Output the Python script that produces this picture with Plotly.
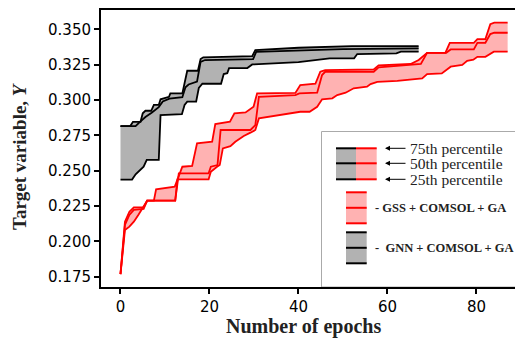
import plotly.graph_objects as go

# ---------------- data ----------------
# GNN + COMSOL + GA (black / grey band)
gnn_p75_x = [0, 2.2, 2.8, 4.5, 5.0, 5.6, 6.9, 7.5, 8.6, 9.0, 10.9, 11.2, 13.9, 15.0, 17.4, 18.0, 18.6, 29.6, 30.3, 40, 52, 67]
gnn_p75_y = [0.2816, 0.2816, 0.2846, 0.2846, 0.2906, 0.2924, 0.2924, 0.2965, 0.2965, 0.3005, 0.3023, 0.3047, 0.3047, 0.3207, 0.3207, 0.3290, 0.3302, 0.3310, 0.3354, 0.3370, 0.3382, 0.3382]

gnn_p50_x = [0, 3.4, 4.2, 5.6, 7.0, 8.6, 9.5, 11.0, 13.9, 14.6, 15.3, 17.2, 18.0, 19.0, 29.8, 30.5, 50, 67]
gnn_p50_y = [0.2816, 0.2816, 0.2840, 0.2880, 0.2910, 0.2950, 0.2990, 0.3010, 0.3020, 0.3090, 0.3110, 0.3130, 0.3270, 0.3283, 0.3290, 0.3340, 0.3360, 0.3365]

gnn_p25_x = [0, 2.6, 3.4, 5.2, 5.9, 8.6, 9.0, 13.8, 14.4, 15.0, 17.0, 17.6, 18.4, 22.6, 23.2, 24.0, 24.4, 28.5, 29.6, 40, 47, 52.5, 53.2, 62, 63, 67]
gnn_p25_y = [0.2437, 0.2437, 0.2475, 0.2528, 0.2576, 0.2576, 0.2894, 0.2900, 0.2965, 0.2988, 0.2988, 0.3085, 0.3115, 0.3115, 0.3184, 0.3190, 0.3226, 0.3226, 0.3252, 0.3268, 0.3295, 0.3295, 0.3325, 0.3330, 0.3342, 0.3342]

# GSS + COMSOL + GA (red band)
gss_p75_x = [0, 1, 2, 3, 5.2, 6.0, 7.5, 8.0, 12.2, 13.1, 13.9, 16.1, 17.2, 20.6, 21.3, 24.6, 25.6, 28.1, 29.9, 30.7, 39.3, 40.4, 43.8, 44.9, 46.0, 56.9, 58.0, 65.2, 67.0, 68.9, 73.0, 74.0, 79.4, 80.2, 82.0, 83.1, 84.0, 87]
gss_p75_y = [0.1768, 0.2139, 0.2210, 0.2241, 0.2241, 0.2288, 0.2288, 0.2368, 0.2387, 0.2469, 0.2528, 0.2533, 0.2694, 0.2705, 0.2830, 0.2847, 0.2906, 0.2912, 0.2952, 0.3047, 0.3050, 0.3106, 0.3115, 0.3200, 0.3212, 0.3217, 0.3245, 0.3255, 0.3283, 0.3334, 0.3334, 0.3405, 0.3405, 0.3431, 0.3431, 0.3537, 0.3547, 0.3547]

gss_p50_x = [0, 1, 2, 3, 5.2, 6.0, 12.3, 13.1, 19.8, 20.3, 21.8, 22.5, 29.2, 30.3, 31.1, 39.3, 40.2, 44.2, 45.3, 46.0, 56.9, 58.0, 67.5, 68.9, 73.2, 74.2, 79.4, 80.2, 82.0, 83.1, 84.0, 87]
gss_p50_y = [0.1768, 0.2116, 0.2187, 0.2222, 0.2230, 0.2288, 0.2288, 0.2481, 0.2481, 0.2528, 0.2540, 0.2788, 0.2788, 0.2823, 0.3023, 0.3035, 0.3047, 0.3052, 0.3177, 0.3200, 0.3200, 0.3231, 0.3255, 0.3334, 0.3334, 0.3358, 0.3358, 0.3405, 0.3405, 0.3467, 0.3476, 0.3476]

gss_p25_x = [0, 1, 2, 3, 4, 5, 6, 12.3, 12.8, 19.8, 20.3, 21.7, 22.3, 23.0, 24.7, 25.8, 27.7, 29.2, 30.3, 31.1, 34.5, 38.2, 40.4, 42.5, 44.2, 45.3, 47.6, 48.7, 50.6, 52.4, 55.4, 56.2, 57.7, 62.2, 67.8, 68.9, 72.2, 74.2, 76.8, 77.9, 79.3, 80.2, 82.0, 83.9, 87]
gss_p25_y = [0.1768, 0.2080, 0.2104, 0.2139, 0.2187, 0.2236, 0.2288, 0.2288, 0.2439, 0.2439, 0.2493, 0.2528, 0.2540, 0.2658, 0.2674, 0.2705, 0.2745, 0.2769, 0.2788, 0.2870, 0.2887, 0.2901, 0.2917, 0.2917, 0.2952, 0.3005, 0.3012, 0.3035, 0.3052, 0.3083, 0.3094, 0.3113, 0.3129, 0.3136, 0.3153, 0.3184, 0.3188, 0.3236, 0.3248, 0.3278, 0.3285, 0.3306, 0.3306, 0.3342, 0.3342]

x_ticks = [0, 20, 40, 60, 80]
y_ticks = [0.175, 0.200, 0.225, 0.250, 0.275, 0.300, 0.325, 0.350]
y_tick_labels = ["0.175", "0.200", "0.225", "0.250", "0.275", "0.300", "0.325", "0.350"]

legend_percentiles = ["75th percentile", "50th percentile", "25th percentile"]
legend_methods = ["- GSS + COMSOL + GA", "-\u00a0\u00a0GNN + COMSOL + GA"]

# ---------------- styling ----------------
RED = "#ff0000"
RED_FILL = "rgba(255,0,0,0.30)"
BLACK = "#000000"
GREY_FILL = "rgba(0,0,0,0.30)"
LW = 1.8

OFF = 8  # page body margin offset
W, H = 523 - OFF, 339 - OFF
# plot area in page pixels: x 101..523+, y 10..287
L, T = 101 - OFF, 10 - OFF
R = 0
B = H - (287 - OFF)
PW, PH = W - L - R, H - T - B


def fx(px):
    return (px - OFF - L) / PW


def fy(py):
    return (H - B - (py - OFF)) / PH


fig = go.Figure()


def band(xs_lo, ys_lo, xs_hi, ys_hi, xs_mid, ys_mid, line_col, fill_col):
    fig.add_trace(go.Scatter(x=xs_lo, y=ys_lo, mode="lines",
                             line=dict(color=line_col, width=LW), showlegend=False, hoverinfo="skip"))
    fig.add_trace(go.Scatter(x=xs_hi, y=ys_hi, mode="lines", fill="tonexty", fillcolor=fill_col,
                             line=dict(color=line_col, width=LW), showlegend=False, hoverinfo="skip"))
    fig.add_trace(go.Scatter(x=xs_mid, y=ys_mid, mode="lines",
                             line=dict(color=line_col, width=LW), showlegend=False, hoverinfo="skip"))


band(gnn_p25_x, gnn_p25_y, gnn_p75_x, gnn_p75_y, gnn_p50_x, gnn_p50_y, BLACK, GREY_FILL)
band(gss_p25_x, gss_p25_y, gss_p75_x, gss_p75_y, gss_p50_x, gss_p50_y, RED, RED_FILL)

x0_data = -4.38
tickfont = dict(family="DejaVu Sans", size=15, color="black")
fig.update_layout(
    width=W, height=H,
    margin=dict(l=L, r=R, t=T, b=B, pad=0),
    paper_bgcolor="white", plot_bgcolor="white",
    xaxis=dict(range=[x0_data, x0_data + PW / 4.45], tickvals=x_ticks, ticks="outside", ticklen=5, tickwidth=1.5,
               tickcolor="black", showline=True, linecolor="black", linewidth=2, mirror=True,
               showgrid=False, zeroline=False, tickfont=tickfont),
    yaxis=dict(range=[0.1677, 0.3637], tickvals=y_ticks, ticktext=y_tick_labels, ticks="outside", ticklen=5,
               tickwidth=1.5, tickcolor="black", showline=True, linecolor="black", linewidth=2, mirror=False,
               showgrid=False, zeroline=False, tickfont=tickfont),
)

serif = "Liberation Serif"
annotations = [
    dict(text="<b>Number of epochs</b>", xref="paper", yref="paper", x=fx(303.5), y=fy(326),
         xanchor="center", yanchor="middle", showarrow=False, font=dict(family=serif, size=20, color="#222")),
    dict(text="<b>Target variable, <i>Y</i></b>", xref="paper", yref="paper", x=fx(20), y=fy(156),
         xanchor="center", yanchor="middle", textangle=-90, showarrow=False,
         font=dict(family=serif, size=19, color="#222")),
]

shapes = []
# legend box
shapes.append(dict(type="rect", xref="paper", yref="paper", x0=fx(321.5), x1=fx(540), y0=fy(287), y1=fy(131.5),
                   line=dict(color="#aaaaaa", width=1), fillcolor="white", layer="below"))
# percentile swatch
row_y = [148.3, 163.3, 179.3]
shapes.append(dict(type="rect", xref="paper", yref="paper", x0=fx(336), x1=fx(356), y0=fy(179.3), y1=fy(148.3),
                   line=dict(width=0), fillcolor=GREY_FILL, layer="below"))
shapes.append(dict(type="rect", xref="paper", yref="paper", x0=fx(356), x1=fx(376.7), y0=fy(179.3), y1=fy(148.3),
                   line=dict(width=0), fillcolor=RED_FILL, layer="below"))
for py in row_y:
    shapes.append(dict(type="line", xref="paper", yref="paper", x0=fx(336), x1=fx(356), y0=fy(py), y1=fy(py),
                       line=dict(color=BLACK, width=2), layer="below"))
    shapes.append(dict(type="line", xref="paper", yref="paper", x0=fx(356), x1=fx(376.7), y0=fy(py), y1=fy(py),
                       line=dict(color=RED, width=2), layer="below"))
for py, lab in zip(row_y, legend_percentiles):
    annotations.append(dict(text="", xref="paper", yref="paper", x=fx(385), y=fy(py), ax=22, ay=0,
                            showarrow=True, arrowhead=2, arrowsize=1, arrowwidth=1, arrowcolor="black"))
    annotations.append(dict(text=lab, xref="paper", yref="paper", x=fx(408), y=fy(py), xanchor="left",
                            yanchor="middle", showarrow=False, font=dict(family=serif, size=15.5, color="#222")))

# method swatches
for (top, bot), lcol, fcol, lab in [((192.3, 223.3), RED, RED_FILL, legend_methods[0]),
                                    ((232.3, 263.3), BLACK, GREY_FILL, legend_methods[1])]:
    shapes.append(dict(type="rect", xref="paper", yref="paper", x0=fx(346), x1=fx(366.7), y0=fy(bot), y1=fy(top),
                       line=dict(width=0), fillcolor=fcol, layer="below"))
    mid = (top + bot) / 2
    for py in (top, mid, bot):
        shapes.append(dict(type="line", xref="paper", yref="paper", x0=fx(346), x1=fx(366.7), y0=fy(py),
                           y1=fy(py), line=dict(color=lcol, width=2), layer="below"))
    annotations.append(dict(text="<b>" + lab + "</b>", xref="paper", yref="paper", x=fx(373), y=fy(mid),
                            xanchor="left", yanchor="middle", showarrow=False,
                            font=dict(family=serif, size=12.5, color="#222")))

fig.update_layout(shapes=shapes, annotations=annotations)
fig.write_html("out.html")
